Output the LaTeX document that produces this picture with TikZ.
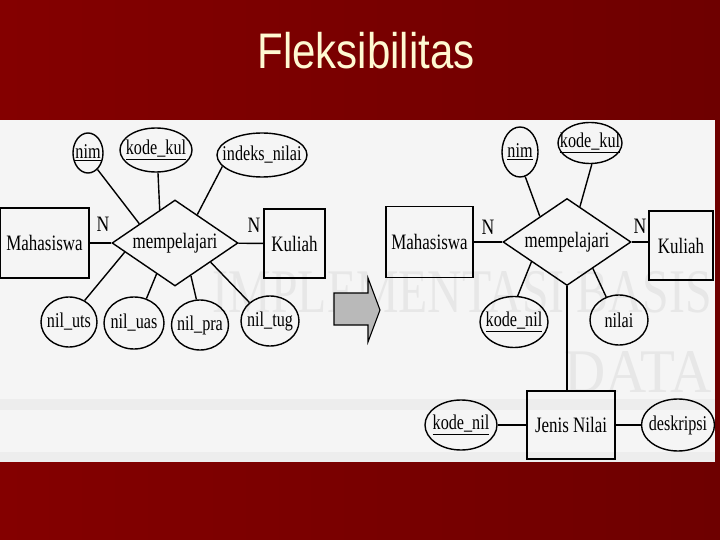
\documentclass[tikz,border=0pt]{standalone}
\usepackage{fontspec}
\usepackage{graphicx}
\setmainfont{Liberation Serif}
\newfontfamily\titlefont{Liberation Sans}
\usetikzlibrary{shapes.geometric,calc}
\definecolor{bgL}{RGB}{132,0,0}
\definecolor{bgR}{RGB}{110,0,0}
\definecolor{titlecol}{RGB}{255,249,210}
\definecolor{paper}{RGB}{245,245,245}
\definecolor{wmark}{RGB}{231,231,231}
\definecolor{band}{RGB}{237,237,237}
\newcommand{\sqz}[1]{\makebox[0pt]{\scalebox{0.77}[1]{#1}}}
\begin{document}
\begin{tikzpicture}[x=1pt,y=-1pt,
  conn/.style={line width=1.4pt},
  entity/.style={draw, rectangle, line width=1.4pt, inner sep=0pt, font=\fontsize{22}{22}\selectfont},
  relation/.style={draw, diamond, line width=1.4pt, inner sep=0pt, minimum width=126pt, minimum height=86pt, font=\fontsize{22}{22}\selectfont},
  attr/.style={draw, ellipse, line width=1.4pt, inner sep=0pt, font=\fontsize{21}{21}\selectfont},
  card/.style={inner sep=0pt, font=\fontsize{22}{22}\selectfont},
]
\useasboundingbox (0,0) rectangle (720,540);
\shade[left color=bgL, right color=bgR] (0,0) rectangle (720,540);
\node[text=titlecol, font=\titlefont\fontsize{50}{50}\selectfont, anchor=base, inner sep=0pt] (title) at (366,69) {\scalebox{0.84}[1]{Fleksibilitas}};
\fill[paper] (0,120) rectangle (715,462);
\fill[band] (0,399) rectangle (715,410);
\fill[band] (0,452) rectangle (715,462);
% watermark of the scan
\node[text=wmark, font=\fontsize{62}{62}\selectfont, anchor=base east, inner sep=0pt] (wm1) at (712,312) {\scalebox{0.77}[1]{IMPLEMENTASI BASIS}};
\node[text=wmark, font=\fontsize{62}{62}\selectfont, anchor=base east, inner sep=0pt] (wm2) at (712,392) {\scalebox{0.92}[1]{DATA}};

% ---------- left diagram ----------
\node[entity, minimum width=89pt, minimum height=70pt] (mhs1) at (44.5,243) {\sqz{Mahasiswa}};
\node[relation] (rel1) at (175,243) {\sqz{mempelajari}};
\node[entity, minimum width=61pt, minimum height=69pt] (kul1) at (294.5,243.5) {\sqz{Kuliah}};
\node[card] (n1a) at (103,224) {\scalebox{0.8}[1]{N}};
\node[card] (n1b) at (254,225) {\scalebox{0.8}[1]{N}};
\node[attr, minimum width=30pt, minimum height=40pt] (nim1) at (88,153) {\sqz{\underline{nim}}};
\node[attr, minimum width=72pt, minimum height=44pt] (kk1) at (156,150) {\sqz{\underline{kode\_kul}}};
\node[attr, minimum width=90pt, minimum height=44pt] (idx1) at (262,155) {\sqz{indeks\_nilai}};
\node[attr, minimum width=56pt, minimum height=50pt] (uts) at (69,322) {\sqz{nil\_uts}};
\node[attr, minimum width=60pt, minimum height=52pt] (uas) at (134,323) {\sqz{nil\_uas}};
\node[attr, minimum width=57pt, minimum height=50pt] (pra) at (200,325) {\sqz{nil\_pra}};
\node[attr, minimum width=58pt, minimum height=50pt] (tug) at (270,321) {\sqz{nil\_tug}};

\draw[conn] (mhs1) -- (rel1);
\draw[conn] (rel1) -- (kul1);
\draw[conn] (nim1.300) -- ($(rel1.west)!0.44!(rel1.north)$);
\draw[conn] (kk1.275) -- ($(rel1.west)!0.76!(rel1.north)$);
\draw[conn] (idx1.196) -- ($(rel1.north)!0.35!(rel1.east)$);
\draw[conn] (uts.54) -- ($(rel1.west)!0.21!(rel1.south)$);
\draw[conn] (uas.63) -- ($(rel1.west)!0.71!(rel1.south)$);
\draw[conn] (pra.98) -- ($(rel1.south)!0.25!(rel1.east)$);
\draw[conn] (tug.138) -- ($(rel1.south)!0.56!(rel1.east)$);

% ---------- arrow ----------
\filldraw[fill=gray!55, draw=black, line width=1.1pt] (334,293) -- (368,293) -- (368,278) -- (380,310) -- (368,342) -- (368,325) -- (334,325) -- cycle;

% ---------- right diagram ----------
\node[entity, minimum width=87pt, minimum height=71pt] (mhs2) at (429.5,242) {\sqz{Mahasiswa}};
\node[relation, minimum width=128pt, minimum height=87pt] (rel2) at (567,242) {\sqz{mempelajari}};
\node[entity, minimum width=64pt, minimum height=69pt] (kul2) at (681,245.5) {\sqz{Kuliah}};
\node[card] (n2a) at (488,227) {\scalebox{0.8}[1]{N}};
\node[card] (n2b) at (640,226) {\scalebox{0.8}[1]{N}};
\node[attr, minimum width=36pt, minimum height=50pt] (nim2) at (520,152) {\sqz{\underline{nim}}};
\node[attr, minimum width=64pt, minimum height=41pt] (kk2) at (590,143) {\sqz{\underline{kode\_kul}}};
\node[attr, minimum width=68pt, minimum height=51pt] (kn1) at (514,322) {\sqz{\underline{kode\_nil}}};
\node[attr, minimum width=58pt, minimum height=50pt] (nilai) at (619,320) {\sqz{nilai}};
\node[entity, minimum width=88pt, minimum height=68pt] (jn) at (571,425) {\sqz{Jenis Nilai}};
\node[attr, minimum width=72pt, minimum height=50pt] (kn2) at (461,425) {\sqz{\underline{kode\_nil}}};
\node[attr, minimum width=73pt, minimum height=52pt] (desk) at (678,425) {\sqz{deskripsi}};

\draw[conn] (mhs2) -- (rel2);
\draw[conn] (rel2.east) -- (rel2.east -| kul2.west);
\draw[conn] (nim2.282) -- ($(rel2.west)!0.58!(rel2.north)$);
\draw[conn] (kk2.275) -- ($(rel2.north)!0.2!(rel2.east)$);
\draw[conn] (kn1.82) -- ($(rel2.west)!0.45!(rel2.south)$);
\draw[conn] (nilai.119) -- ($(rel2.south)!0.4!(rel2.east)$);
\draw[conn] (rel2.south) -- (rel2.south |- jn.north);
\draw[conn] (kn2) -- (jn);
\draw[conn] (jn) -- (desk);
\end{tikzpicture}
\end{document}
